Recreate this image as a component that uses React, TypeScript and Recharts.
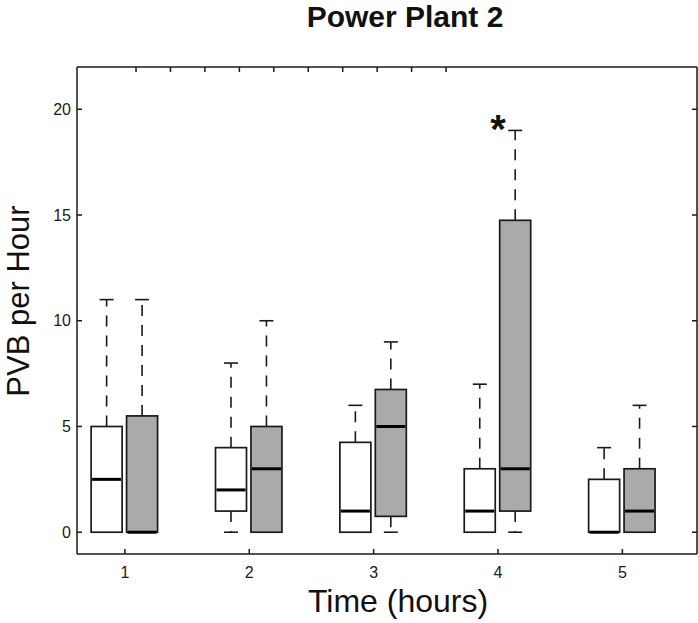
import { ComposedChart, Bar, XAxis, YAxis, ReferenceDot } from 'recharts'

const hours = [1, 2, 3, 4, 5]

// white boxes
const ctrlMin = [0, 0, 0, 0, 0]
const ctrlQ1 = [0, 1, 0, 0, 0]
const ctrlMedian = [2.5, 2, 1, 1, 0]
const ctrlQ3 = [5, 4, 4.25, 3, 2.5]
const ctrlMax = [11, 8, 6, 7, 4]

// grey boxes
const expMin = [0, 0, 0, 0, 0]
const expQ1 = [0, 0, 0.75, 1, 0]
const expMedian = [0, 3, 5, 3, 1]
const expQ3 = [5.5, 5, 6.75, 14.75, 3]
const expMax = [11, 10, 9, 19, 6]

const yTicks = [0, 5, 10, 15, 20]
const topTicks = [0.857, 1.357, 1.857, 2.357, 2.857, 3.357, 3.857, 4.357, 4.857, 5.357]

// significance marker
const starHour = 4
const starLevel = 19.5

const X_DOMAIN: [number, number] = [0.615, 5.6]
const Y_DOMAIN: [number, number] = [-1.03, 22]
const CTRL_OFFSET = -0.145
const EXP_OFFSET = 0.14

const INK = '#1a1a1a'
const FONT = '"Liberation Sans", Arial, Helvetica, sans-serif'

const rows = hours.flatMap((h, i) => [
  {
    pos: h + CTRL_OFFSET,
    min: ctrlMin[i], q1: ctrlQ1[i], median: ctrlMedian[i], q3: ctrlQ3[i], max: ctrlMax[i],
    range: [ctrlMin[i], ctrlMax[i]],
    fill: '#ffffff',
  },
  {
    pos: h + EXP_OFFSET,
    min: expMin[i], q1: expQ1[i], median: expMedian[i], q3: expQ3[i], max: expMax[i],
    range: [expMin[i], expMax[i]],
    fill: '#aaaaaa',
  },
])

function BoxShape(props: any) {
  const { x, y, width, height, payload } = props
  const { min, q1, median, q3, max, fill } = payload
  // linear position inside the bar that spans min..max
  const py = (v: number) => y + (height * (max - v)) / (max - min)
  const cx = x + width / 2
  const cap = 7
  return (
    <g>
      <line x1={cx} x2={cx} y1={py(q3)} y2={py(max)} stroke={INK} strokeWidth={1.6} strokeDasharray="11 9" />
      <line x1={cx - cap} x2={cx + cap} y1={py(max)} y2={py(max)} stroke={INK} strokeWidth={1.6} />
      {q1 > min && (
        <>
          <line x1={cx} x2={cx} y1={py(q1)} y2={py(min)} stroke={INK} strokeWidth={1.6} strokeDasharray="11 9" />
          <line x1={cx - cap} x2={cx + cap} y1={py(min)} y2={py(min)} stroke={INK} strokeWidth={1.6} />
        </>
      )}
      <rect x={x} y={py(q3)} width={width} height={py(q1) - py(q3)} fill={fill} stroke={INK} strokeWidth={1.7} />
      <line x1={x + 1} x2={x + width - 1} y1={py(median)} y2={py(median)} stroke="#000" strokeWidth={3} />
    </g>
  )
}

function BottomTick({ x, y, payload }: any) {
  return (
    <g>
      <line x1={x} x2={x} y1={y} y2={y - 5} stroke={INK} strokeWidth={1.5} />
      <text x={x} y={y + 24} textAnchor="middle" fontSize={16} fontFamily={FONT} fill={INK}>
        {payload.value}
      </text>
    </g>
  )
}

function TopTick({ x, y }: any) {
  return <line x1={x} x2={x} y1={y} y2={y + 5} stroke={INK} strokeWidth={1.5} />
}

function LeftTick({ x, y, payload }: any) {
  return (
    <g>
      <line x1={x} x2={x + 5} y1={y} y2={y} stroke={INK} strokeWidth={1.5} />
      <text x={x - 6} y={y} dy="0.35em" textAnchor="end" fontSize={16} fontFamily={FONT} fill={INK}>
        {payload.value}
      </text>
    </g>
  )
}

function RightTick({ x, y }: any) {
  return <line x1={x} x2={x - 5} y1={y} y2={y} stroke={INK} strokeWidth={1.5} />
}

function StarMark({ cx, cy }: any) {
  return (
    <text x={cx} y={cy + 23} textAnchor="middle" fontSize={40} fontWeight="bold" fontFamily={FONT} fill="#111">
      *
    </text>
  )
}

const axisLine = { stroke: INK, strokeWidth: 1.5 }

export default function App() {
  return (
    <div style={{ position: 'absolute', left: 0, top: 0, width: 698, height: 623, background: '#fff' }}>
      <ComposedChart width={698} height={623} data={rows} margin={{ top: 66, right: 0, bottom: 68, left: 76 }}>
        <XAxis
          xAxisId="bottom"
          dataKey="pos"
          type="number"
          domain={X_DOMAIN}
          allowDataOverflow
          ticks={hours}
          interval={0}
          height={1}
          tickSize={0}
          tickMargin={0}
          tickLine={false}
          axisLine={axisLine}
          tick={BottomTick}
        />
        <XAxis
          xAxisId="top"
          orientation="top"
          type="number"
          domain={X_DOMAIN}
          allowDataOverflow
          ticks={topTicks}
          interval={0}
          height={1}
          tickSize={0}
          tickMargin={0}
          tickLine={false}
          axisLine={axisLine}
          tick={TopTick}
        />
        <YAxis
          yAxisId="left"
          type="number"
          domain={Y_DOMAIN}
          allowDataOverflow
          ticks={yTicks}
          interval={0}
          width={1}
          tickSize={0}
          tickMargin={0}
          tickLine={false}
          axisLine={axisLine}
          tick={LeftTick}
        />
        <YAxis
          yAxisId="right"
          orientation="right"
          type="number"
          domain={Y_DOMAIN}
          allowDataOverflow
          ticks={yTicks}
          interval={0}
          width={1}
          tickSize={0}
          tickMargin={0}
          tickLine={false}
          axisLine={axisLine}
          tick={RightTick}
        />
        <Bar
          xAxisId="bottom"
          yAxisId="left"
          dataKey="range"
          barSize={31}
          shape={BoxShape}
          isAnimationActive={false}
        />
        <ReferenceDot xAxisId="bottom" yAxisId="left" x={starHour} y={starLevel} r={0} shape={StarMark} />
      </ComposedChart>
      <svg
        width={698}
        height={623}
        style={{ position: 'absolute', left: 0, top: 0, pointerEvents: 'none' }}
        fontFamily={FONT}
      >
        <text x={405} y={27} textAnchor="middle" fontSize={30} fontWeight="bold" fill="#111">
          Power Plant 2
        </text>
        <text x={398} y={612} textAnchor="middle" fontSize={32} fill="#111">
          Time (hours)
        </text>
        <text x={29} y={301} textAnchor="middle" fontSize={31} fill="#111" transform="rotate(-90 29 301)">
          PVB per Hour
        </text>
      </svg>
    </div>
  )
}
